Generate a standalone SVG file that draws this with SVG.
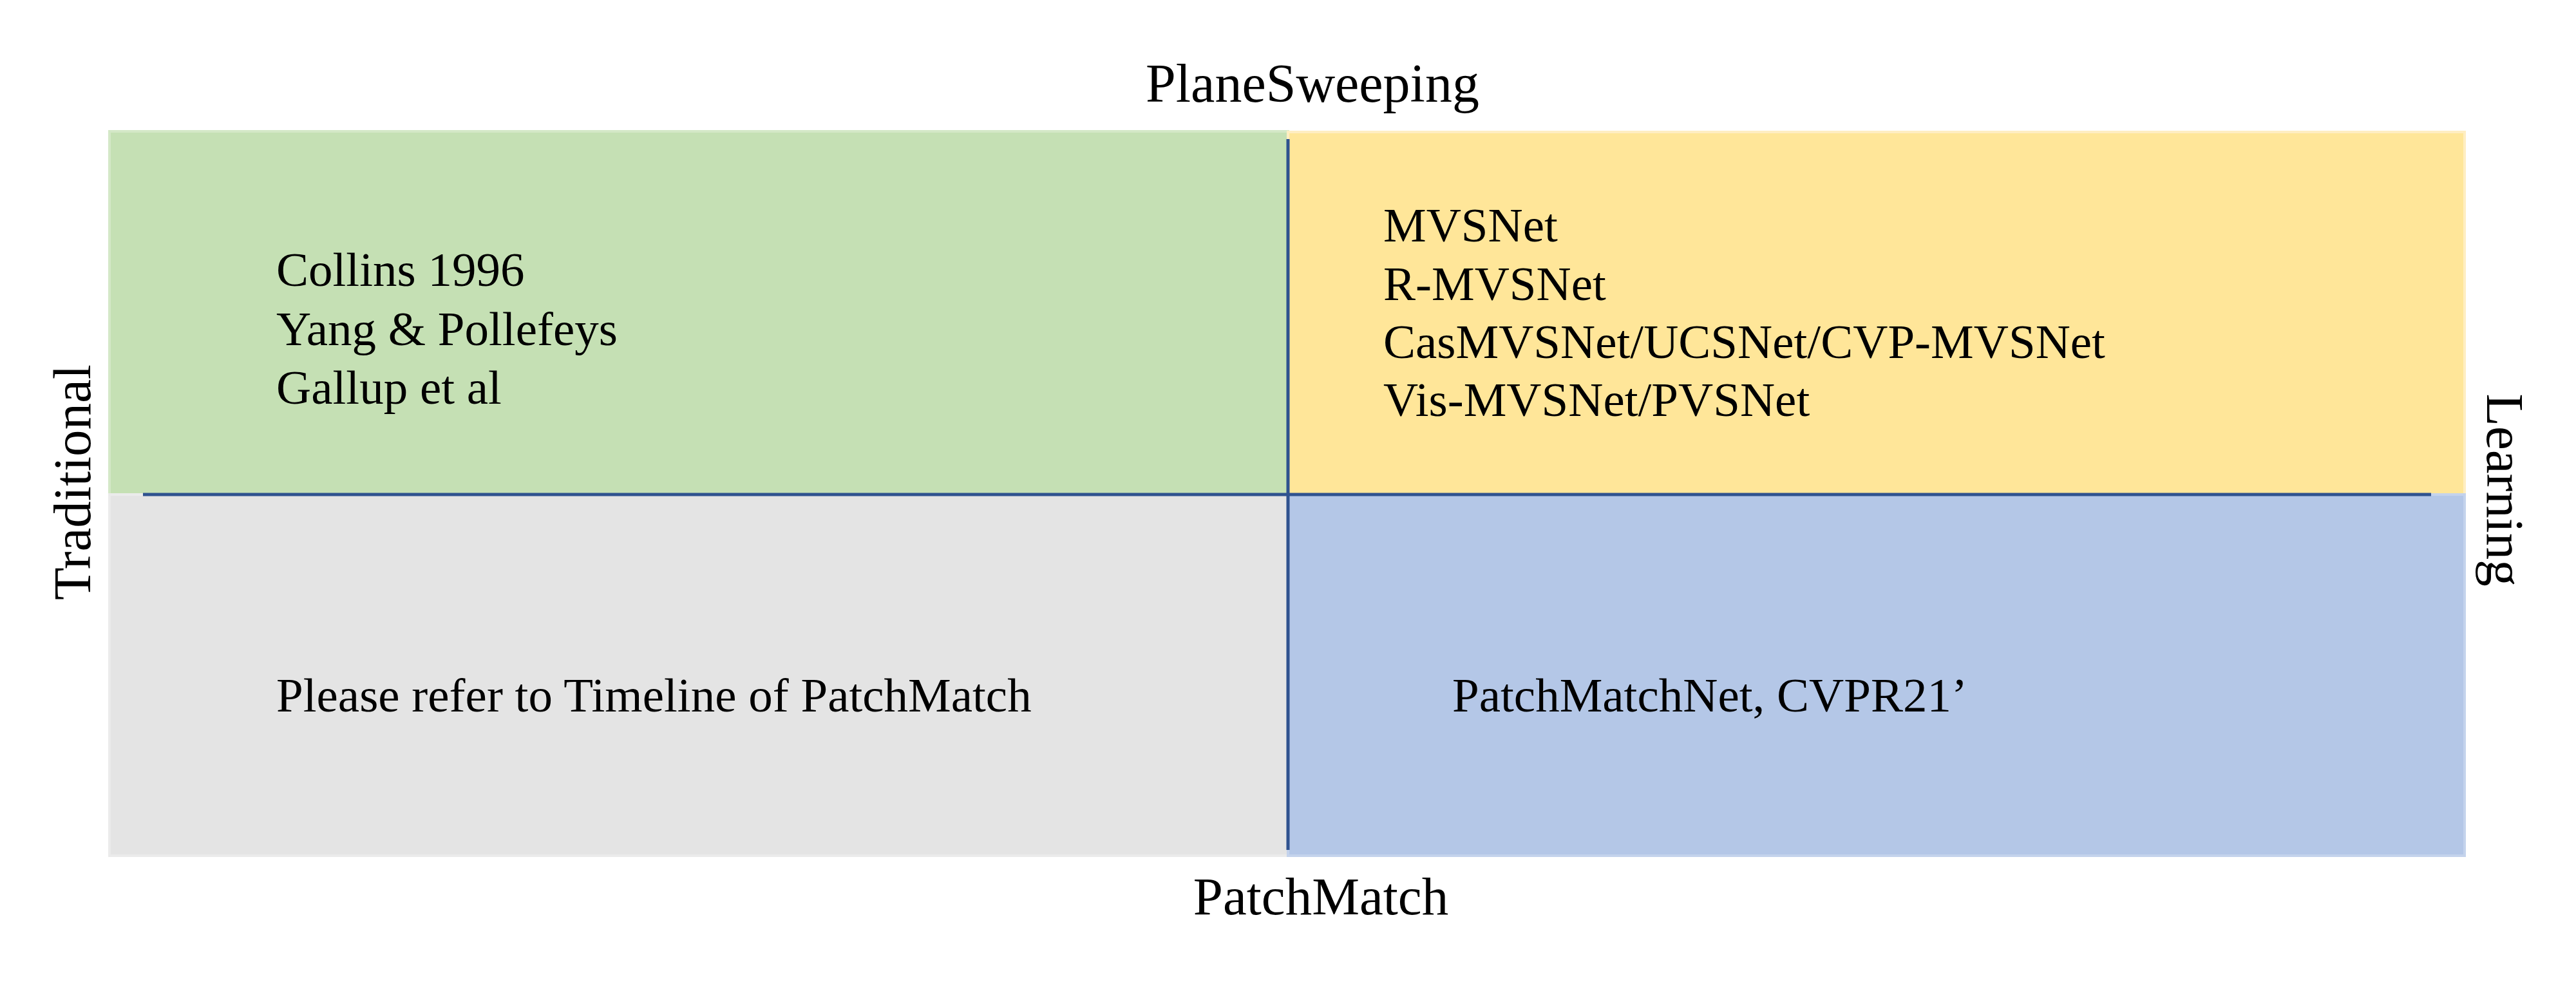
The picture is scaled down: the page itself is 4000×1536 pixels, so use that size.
<svg xmlns="http://www.w3.org/2000/svg" width="4000" height="1536" viewBox="0 0 4000 1536">
  <style>
    text { font-family: "Liberation Serif", "Times New Roman", serif; fill: #000; }
    .axis { font-size: 83px; }
    .item { font-size: 75px; }
    .quad { stroke-width: 4; }
    .divider { stroke: #2F528F; stroke-width: 5; fill: none; }
  </style>

  <rect width="4000" height="1536" fill="#ffffff"/>

  <!-- four quadrants -->
  <g id="traditional-planesweep">
    <rect class="quad" x="170" y="204" width="1830" height="564" fill="#C5E0B4" stroke="#D4E8C7"/>
    <text class="item" x="429" y="444">Collins 1996</text>
    <text class="item" x="429" y="536">Yang &amp; Pollefeys</text>
    <text class="item" x="429" y="627">Gallup et al</text>
  </g>

  <g id="learning-planesweep">
    <rect class="quad" x="2000" y="205" width="1827" height="563" fill="#FFE699" stroke="#FFEEC2"/>
    <text class="item" x="2148" y="375">MVSNet</text>
    <text class="item" x="2148" y="466">R-MVSNet</text>
    <text class="item" x="2148" y="556">CasMVSNet/UCSNet/CVP-MVSNet</text>
    <text class="item" x="2148" y="646">Vis-MVSNet/PVSNet</text>
  </g>

  <g id="traditional-patchmatch">
    <rect class="quad" x="170" y="768" width="1830" height="561" fill="#E4E4E4" stroke="#EBEBEB"/>
    <text class="item" x="429" y="1105">Please refer to Timeline of PatchMatch</text>
  </g>

  <g id="learning-patchmatch">
    <rect class="quad" x="2000" y="768" width="1827" height="561" fill="#B4C7E7" stroke="#C4D3EC"/>
    <text class="item" x="2255" y="1105">PatchMatchNet, CVPR21’</text>
  </g>

  <!-- axis dividers -->
  <g id="connectors">
    <line class="divider" x1="2000" y1="216" x2="2000" y2="1320"/>
    <line class="divider" x1="222" y1="768" x2="3775" y2="768"/>
  </g>

  <!-- axis labels -->
  <g id="axis-labels">
    <text class="axis" x="2038" y="158" text-anchor="middle" style="font-size:84px">PlaneSweeping</text>
    <text class="axis" x="2051" y="1420" text-anchor="middle">PatchMatch</text>
    <text class="axis" transform="translate(140 749) rotate(-90)" text-anchor="middle">Traditional</text>
    <text class="axis" transform="translate(3862 761) rotate(90)" text-anchor="middle">Learning</text>
  </g>
</svg>
